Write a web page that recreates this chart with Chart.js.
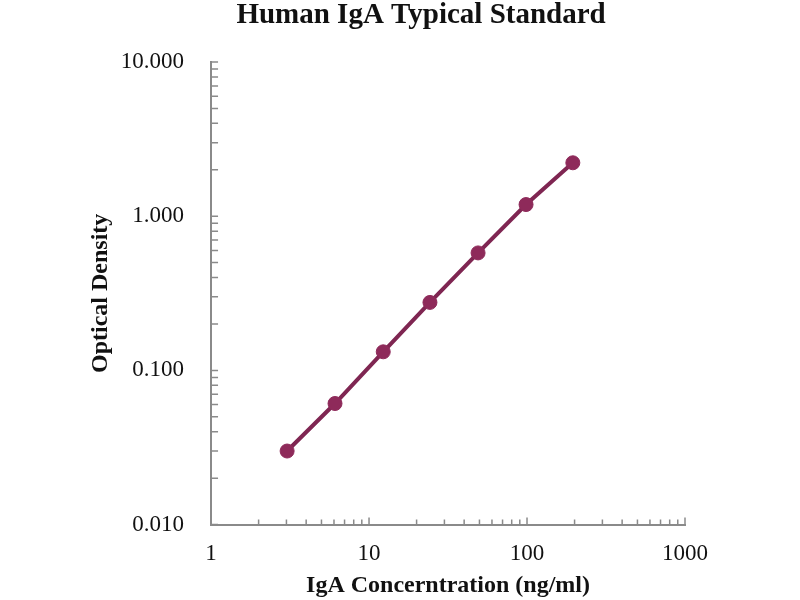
<!DOCTYPE html>
<html>
<head>
<meta charset="utf-8">
<title>Human IgA Typical Standard</title>
<script src="https://cdn.jsdelivr.net/npm/chart.js@4/dist/chart.umd.min.js"></script>
<style>
  html, body { margin: 0; padding: 0; background: #fff; }
  #wrap { width: 800px; height: 600px; }
</style>
</head>
<body>
<div id="wrap"><canvas id="stdChart" width="800" height="600"></canvas></div>
<script>
// ------------------- Data -------------------
const concentrations = [3.03, 6.09, 12.3, 24.3, 49, 98.6, 195];    // ng/ml
const opticalDensity = [0.030, 0.061, 0.132, 0.276, 0.578, 1.19, 2.22];
const xTickValues = [1, 10, 100, 1000];
const yTickValues = [0.01, 0.1, 1, 10];
const chartTitle = "Human IgA Typical Standard";

const serif = "'Liberation Serif', 'Times New Roman', serif";
const curveColor = "#7f2652";
const pointColor = "#8e2a5a";
const axisColor = "#8a8a8a";

// small log ticks drawn inside the plot, like the original
const minorTicks = {
  id: "minorTicks",
  afterDraw(chart) {
    const ctx = chart.ctx;
    const area = chart.chartArea;
    const xs = chart.scales.x, ys = chart.scales.y;
    ctx.save();
    ctx.strokeStyle = axisColor;
    ctx.lineWidth = 1.5;
    ctx.beginPath();
    for (let d = ys.min; d < ys.max * 0.999; d *= 10) {
      for (let k = 1; k <= 10; k++) {
        const y = ys.getPixelForValue(d * k);
        ctx.moveTo(area.left, y);
        ctx.lineTo(area.left + 7, y);
      }
    }
    for (let d = xs.min; d < xs.max * 0.999; d *= 10) {
      for (let k = 2; k <= 10; k++) {
        const x = xs.getPixelForValue(d * k);
        ctx.moveTo(x, area.bottom);
        ctx.lineTo(x, area.bottom - (k === 10 ? 7 : 5));
      }
    }
    ctx.stroke();
    ctx.restore();
  }
};

// the original title sits a little left of the plot centre
const offsetTitle = {
  id: "offsetTitle",
  afterDraw(chart) {
    const ctx = chart.ctx;
    const area = chart.chartArea;
    ctx.save();
    ctx.font = "bold 29px " + serif;
    ctx.fillStyle = "#111";
    ctx.textAlign = "center";
    ctx.textBaseline = "middle";
    ctx.fillText(chartTitle, (area.left + area.right) / 2 - 27, 16);
    ctx.restore();
  }
};

const ctx = document.getElementById("stdChart").getContext("2d");
new Chart(ctx, {
  type: "scatter",
  data: {
    datasets: [{
      label: "Human IgA",
      data: concentrations.map((c, i) => ({ x: c, y: opticalDensity[i] })),
      showLine: true,
      borderColor: curveColor,
      borderWidth: 4,
      pointRadius: 7,
      pointHoverRadius: 7,
      pointBackgroundColor: pointColor,
      pointBorderColor: pointColor,
      pointBorderWidth: 1
    }]
  },
  options: {
    responsive: false,
    animation: false,
    layout: { padding: { left: 86, right: 115, top: 62, bottom: 0 } },
    plugins: {
      legend: { display: false },
      tooltip: { enabled: false },
      title: { display: false }
    },
    scales: {
      x: {
        type: "logarithmic",
        min: 1,
        max: 1000,
        afterBuildTicks: scale => { scale.ticks = xTickValues.map(v => ({ value: v })); },
        ticks: {
          color: "#111",
          font: { family: serif, size: 23 },
          padding: 16,
          maxRotation: 0,
          callback: v => String(v)
        },
        grid: { display: false, drawTicks: false },
        border: { display: true, color: axisColor, width: 2 },
        title: {
          display: true,
          text: "IgA Concerntration (ng/ml)",
          color: "#111",
          font: { family: serif, size: 24, weight: "bold" },
          padding: { top: -13, bottom: 0 }
        }
      },
      y: {
        type: "logarithmic",
        min: 0.01,
        max: 10,
        afterBuildTicks: scale => { scale.ticks = yTickValues.map(v => ({ value: v })); },
        ticks: {
          color: "#111",
          font: { family: serif, size: 23 },
          padding: 27,
          callback: v => Number(v).toFixed(3)
        },
        grid: { display: false, drawTicks: false },
        border: { display: true, color: axisColor, width: 2 },
        title: {
          display: true,
          text: "Optical Density",
          color: "#111",
          font: { family: serif, size: 24, weight: "bold" },
          padding: { top: 0, bottom: -21 }
        }
      }
    }
  },
  plugins: [minorTicks, offsetTitle]
});
</script>
</body>
</html>
